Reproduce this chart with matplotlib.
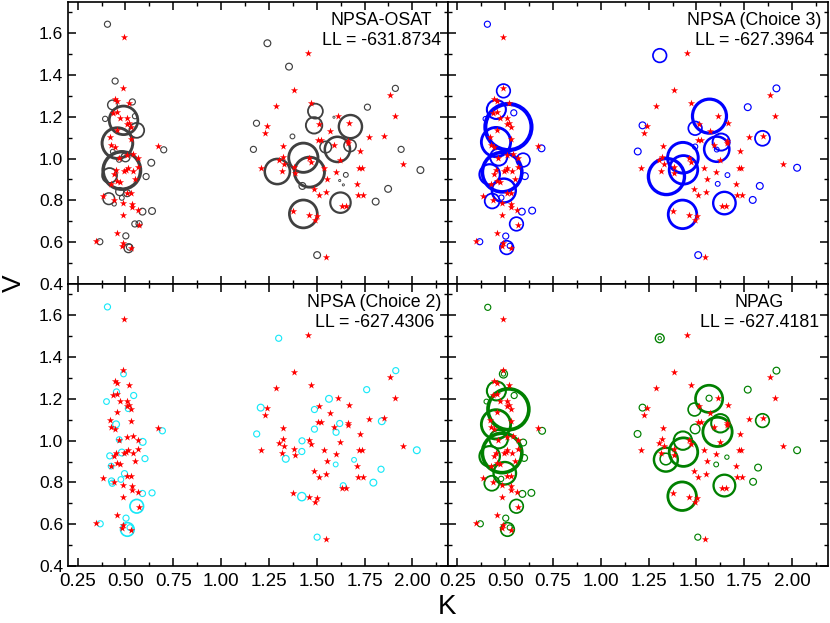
import numpy as np
import matplotlib
matplotlib.use("Agg")
import matplotlib.pyplot as plt
from matplotlib.ticker import MultipleLocator, FormatStrFormatter

plt.rcParams['font.family'] = ['Liberation Sans', 'DejaVu Sans']

# %% true (K, V) of the simulated subjects - same in every panel
true_K = [0.491, 0.488, 0.443, 0.455, 0.519, 0.458, 0.436, 0.510, 0.474, 0.521,
          0.509, 0.530, 0.457, 0.531, 0.420, 0.424, 0.443, 0.672, 0.465, 0.510,
          0.540, 0.566, 0.566, 0.512, 0.538, 0.453, 0.493, 0.503, 0.441, 0.550,
          0.458, 0.474, 0.425, 0.507, 0.530, 0.382, 0.438, 0.486, 0.533, 0.533,
          0.564, 0.486, 0.569, 0.455, 0.347, 0.488, 0.484, 0.528,
          1.453, 1.380, 1.287, 1.469, 1.242, 1.228, 1.514, 1.610, 1.666, 1.570,
          1.509, 1.524, 1.591, 1.662, 1.662, 1.326, 1.322, 1.303, 1.331, 1.209,
          1.317, 1.383, 1.385, 1.462, 1.470, 1.624, 1.726, 1.772, 1.850, 1.883,
          1.911, 1.953, 1.540, 1.603, 1.554, 1.720, 1.735, 1.709, 1.488, 1.510,
          1.549, 1.714, 1.740, 1.631, 1.653, 1.376, 1.462, 1.503, 1.491, 1.547]
true_V = [1.581, 1.340, 1.287, 1.276, 1.268, 1.225, 1.217, 1.192, 1.192, 1.169,
          1.165, 1.150, 1.139, 1.096, 1.101, 1.067, 1.055, 1.061, 1.005, 1.019,
          1.023, 1.002, 0.960, 0.957, 0.941, 0.943, 0.941, 0.946, 0.927, 0.903,
          0.892, 0.889, 0.878, 0.833, 0.833, 0.820, 0.804, 0.787, 0.782, 0.766,
          0.756, 0.731, 0.681, 0.646, 0.605, 0.594, 0.582, 0.571,
          1.506, 1.329, 1.251, 1.268, 1.158, 1.123, 1.165, 1.206, 1.169, 1.131,
          1.090, 1.091, 1.066, 1.086, 1.074, 1.061, 1.008, 0.991, 0.972, 0.957,
          0.940, 0.962, 0.932, 1.003, 0.984, 0.994, 1.034, 1.102, 1.109, 1.305,
          1.203, 0.972, 0.957, 0.935, 0.901, 0.954, 0.954, 0.879, 0.854, 0.826,
          0.839, 0.825, 0.826, 0.775, 0.775, 0.748, 0.731, 0.726, 0.708, 0.531]

# %% support points (K, V) and their weights for each method
osat_K = [0.406, 0.446, 0.432, 0.536, 0.394, 0.490, 0.550, 0.559, 0.458, 0.434,
          0.500, 0.467, 0.635, 0.700, 0.481, 0.417, 0.608, 0.470, 0.413, 0.481,
          0.509, 0.589, 0.639, 0.549, 0.571, 0.502, 0.366, 0.516, 0.521, 0.441,
          1.242, 1.355, 1.911, 1.765, 1.185, 1.493, 1.486, 1.373, 1.169, 1.676,
          1.547, 1.608, 1.674, 1.430, 1.462, 1.294, 1.425, 1.652, 1.941, 2.042,
          1.873, 1.808, 1.624, 1.430, 1.502, 1.639, 1.590, 1.620]
osat_V = [1.643, 1.371, 1.257, 1.271, 1.190, 1.183, 1.203, 1.135, 1.074, 1.033,
          1.006, 0.995, 0.980, 1.042, 0.943, 0.919, 0.914, 0.842, 0.808, 0.812,
          0.834, 0.746, 0.749, 0.687, 0.688, 0.630, 0.602, 0.571, 0.576, 0.783,
          1.552, 1.440, 1.336, 1.246, 1.169, 1.227, 1.159, 1.106, 1.044, 1.153,
          1.055, 1.044, 1.062, 1.004, 0.935, 0.938, 0.869, 0.922, 1.044, 0.945,
          0.855, 0.794, 0.789, 0.735, 0.538, 0.874, 1.198, 0.895]
osat_w = [0.8, 0.8, 2.0, 0.8, 0.6, 17.6, 0.6, 4.8, 20.3, 0.5,
          1.7, 0.6, 1.0, 0.8, 30.3, 4.8, 0.8, 1.4, 2.9, 0.5,
          1.0, 1.0, 1.0, 0.8, 0.8, 0.8, 0.8, 1.7, 0.8, 0.4,
          1.0, 1.0, 0.8, 0.8, 0.8, 4.8, 5.8, 0.5, 0.8, 11.6,
          2.9, 13.7, 3.2, 18.5, 19.4, 13.7, 1.0, 0.5, 0.8, 1.0,
          1.0, 1.0, 9.0, 16.8, 1.0, 0.1, 0.1, 0.1]

c3_K = [0.407, 0.491, 0.454, 0.545, 0.397, 0.517, 0.452, 0.690, 0.466, 0.594,
        0.484, 0.419, 0.603, 0.493, 0.432, 0.480, 0.587, 0.641, 0.559, 0.503,
        0.367, 0.508, 0.524,
        1.308, 1.918, 1.768, 1.568, 1.218, 1.493, 1.193, 1.845, 1.629, 1.606,
        1.606, 1.493, 1.429, 1.432, 1.343, 1.662, 1.611, 2.026, 1.831, 1.794,
        1.646, 1.427, 1.509]
c3_V = [1.643, 1.324, 1.235, 1.219, 1.190, 1.151, 1.079, 1.049, 1.007, 0.993,
        0.935, 0.924, 0.916, 0.847, 0.797, 0.813, 0.746, 0.751, 0.687, 0.629,
        0.602, 0.574, 0.582,
        1.493, 1.336, 1.246, 1.203, 1.159, 1.145, 1.034, 1.097, 1.079, 1.045,
        1.043, 1.057, 1.004, 0.946, 0.914, 0.921, 0.879, 0.956, 0.869, 0.802,
        0.787, 0.733, 0.538]
c3_w = [0.8, 4.0, 7.8, 0.8, 0.5, 46.0, 18.5, 1.0, 6.3, 4.0,
        33.6, 9.0, 1.0, 12.3, 4.8, 0.6, 1.0, 1.0, 4.0, 0.8,
        0.8, 4.0, 0.6,
        4.0, 1.0, 1.0, 25.0, 1.0, 4.0, 1.0, 4.8, 6.3, 13.7,
        0.5, 0.6, 20.3, 17.6, 28.1, 0.5, 0.5, 1.0, 1.0, 1.0,
        10.9, 17.6, 1.0]

c2_K = [0.406, 0.490, 0.453, 0.543, 0.401, 0.514, 0.451, 0.693, 0.467, 0.590,
        0.418, 0.481, 0.602, 0.425, 0.495, 0.476, 0.427, 0.431, 0.589, 0.639,
        0.559, 0.503, 0.368, 0.523, 0.510,
        1.301, 1.913, 1.761, 1.564, 1.207, 1.488, 1.620, 1.840, 1.488, 1.601,
        1.186, 1.423, 1.422, 1.338, 2.023, 1.599, 1.695, 1.836, 1.796, 1.638,
        1.422, 1.502]
c2_V = [1.640, 1.319, 1.233, 1.216, 1.187, 1.153, 1.078, 1.047, 1.005, 0.994,
        0.927, 0.943, 0.914, 0.878, 0.842, 0.814, 0.807, 0.796, 0.747, 0.750,
        0.686, 0.629, 0.602, 0.584, 0.575,
        1.490, 1.335, 1.244, 1.200, 1.158, 1.149, 1.082, 1.093, 1.055, 1.040,
        1.032, 0.999, 0.948, 0.913, 0.954, 0.886, 0.908, 0.863, 0.799, 0.785,
        0.732, 0.538]
c2_w = [0.8, 0.7, 0.8, 0.8, 0.7, 0.7, 1.0, 0.8, 0.7, 1.0,
        0.8, 1.0, 0.8, 0.7, 0.8, 0.7, 0.8, 0.8, 0.8, 0.8,
        4.0, 0.8, 0.8, 0.7, 4.0,
        0.8, 0.8, 0.8, 1.0, 1.0, 0.8, 0.8, 1.0, 0.8, 0.8,
        0.8, 0.8, 0.8, 1.0, 1.0, 0.5, 0.5, 0.8, 1.0, 0.7,
        1.5, 0.8]

npag_K = [0.409, 0.491, 0.491, 0.454, 0.547, 0.402, 0.517, 0.452, 0.693, 0.466,
          0.594, 0.484, 0.419, 0.599, 0.498, 0.430, 0.479, 0.590, 0.637, 0.559,
          0.503, 0.370, 0.512, 0.524,
          1.308, 1.308, 1.918, 1.768, 1.566, 1.566, 1.218, 1.490, 1.845, 1.625,
          1.610, 1.493, 1.192, 1.429, 1.432, 1.340, 1.340, 1.659, 1.603, 2.026,
          1.822, 1.796, 1.646, 1.425, 1.507]
npag_V = [1.638, 1.319, 1.319, 1.238, 1.216, 1.187, 1.150, 1.078, 1.047, 1.007,
          0.991, 0.941, 0.925, 0.917, 0.844, 0.796, 0.817, 0.745, 0.750, 0.686,
          0.629, 0.602, 0.575, 0.584,
          1.490, 1.490, 1.335, 1.244, 1.200, 1.203, 1.158, 1.149, 1.096, 1.083,
          1.042, 1.056, 1.032, 1.000, 0.945, 0.909, 0.912, 0.921, 0.886, 0.954,
          0.871, 0.803, 0.785, 0.734, 0.538]
npag_w = [0.8, 1.4, 0.4, 7.8, 0.8, 0.5, 36.0, 18.5, 1.0, 7.3,
          1.0, 33.6, 9.0, 1.0, 10.9, 4.8, 0.6, 1.0, 1.0, 4.0,
          0.8, 0.8, 4.0, 0.6,
          1.7, 0.25, 1.0, 1.0, 16.0, 0.8, 1.0, 3.6, 4.0, 7.3,
          18.5, 2.0, 1.0, 7.3, 17.6, 12.3, 2.9, 0.4, 0.5, 1.0,
          1.0, 1.0, 10.2, 17.6, 0.8]

methods = ['NPSA-OSAT', 'NPSA (Choice 3)', 'NPSA (Choice 2)', 'NPAG']
loglik = [-631.8734, -627.3964, -627.4306, -627.4181]
supports = [(osat_K, osat_V, osat_w), (c3_K, c3_V, c3_w),
            (c2_K, c2_V, c2_w), (npag_K, npag_V, npag_w)]
colors = ['#404040', '#0000ff', '#18e8f8', '#008000']
text_x = [0.826, 0.808, 0.807, 0.82]

# %%
fig, axes = plt.subplots(2, 2, figsize=(8.3, 6.23), dpi=100, sharex=True, sharey=True)
fig.subplots_adjust(left=0.082, right=0.997, top=0.997, bottom=0.0915, wspace=0, hspace=0)

for i, ax in enumerate(axes.flat):
    K, V, w = supports[i]
    w = np.array(w)
    ax.scatter(K, V, s=24 * w, facecolors='none', edgecolors=colors[i],
               linewidths=0.5 + 0.36 * np.sqrt(w), zorder=2)
    ax.scatter(true_K, true_V, s=30, marker='*', color='red', linewidths=0, zorder=3)
    ax.text(text_x[i], 0.965, '%s\nLL = %.4f' % (methods[i], loglik[i]),
            transform=ax.transAxes, ha='center', va='top', fontsize=12.8,
            multialignment='center', linespacing=1.25)

    ax.set_xlim(0.2, 2.185)
    ax.set_ylim(0.4, 1.75)
    ax.xaxis.set_major_locator(MultipleLocator(0.25))
    ax.xaxis.set_minor_locator(MultipleLocator(0.125))
    ax.yaxis.set_major_locator(MultipleLocator(0.2))
    ax.yaxis.set_minor_locator(MultipleLocator(0.1))
    ax.xaxis.set_major_formatter(FormatStrFormatter('%.2f'))
    ax.yaxis.set_major_formatter(FormatStrFormatter('%.1f'))
    ax.tick_params(which='both', direction='in', top=True, right=True)
    ax.tick_params(axis='y', labelsize=12.5)
    ax.tick_params(axis='x', labelsize=13.5, pad=5)
    ax.tick_params(which='major', length=6, width=1.1)
    ax.tick_params(which='minor', length=3, width=1.0)
    for sp in ax.spines.values():
        sp.set_linewidth(1.2)

for ax in axes[0]:
    ax.tick_params(labelbottom=False)
for ax in axes[:, 1]:
    ax.tick_params(labelleft=False)

fig.text(0.017, 0.545, 'V', rotation=90, fontsize=19, ha='center', va='center')
fig.text(0.539, 0.026, 'K', fontsize=20, ha='center', va='center')

fig.savefig('out.png', dpi=100)
